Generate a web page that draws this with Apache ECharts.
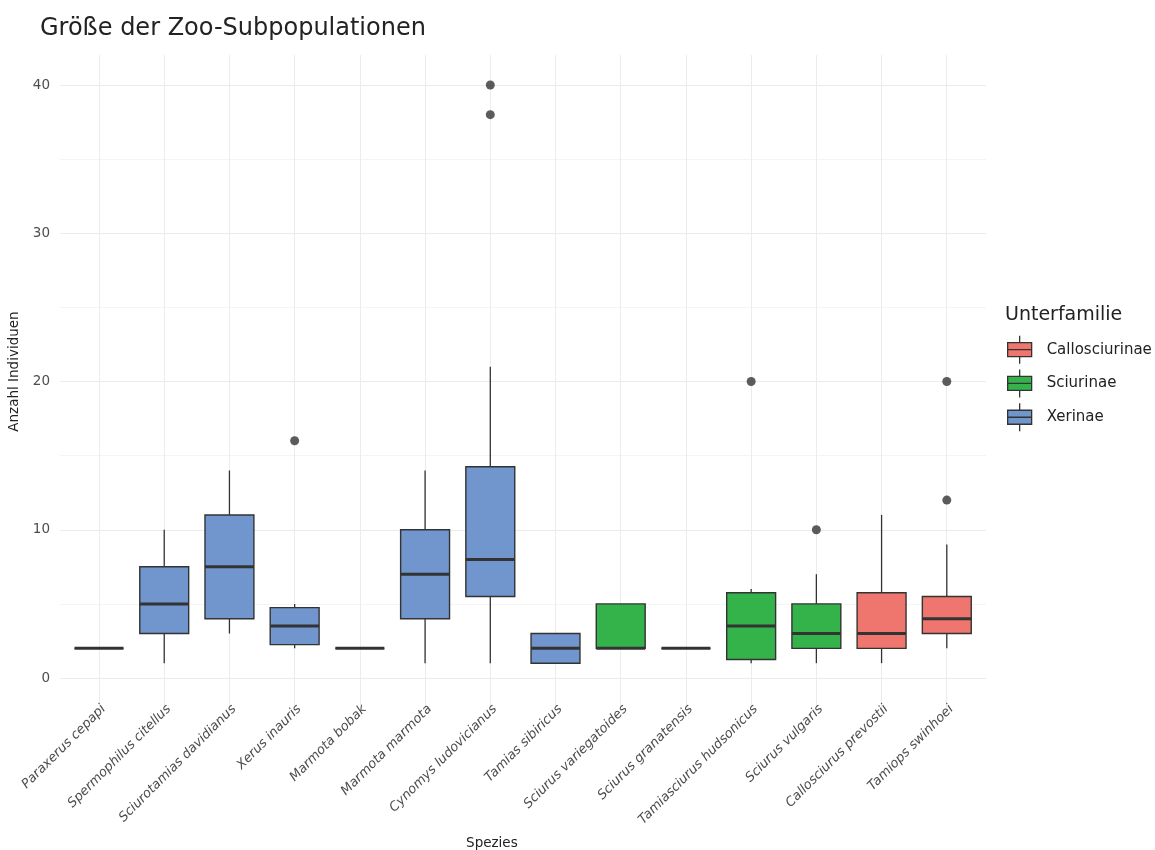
<!DOCTYPE html>
<html>
<head>
<meta charset="utf-8">
<script src="https://cdn.jsdelivr.net/npm/echarts@6/dist/echarts.min.js"></script>
<style>html,body{margin:0;padding:0;background:#fff}#c{width:1155px;height:850px}</style>
</head>
<body>
<div id="c"></div>
<script>
// ---- data ----
const species = ['Paraxerus cepapi','Spermophilus citellus','Sciurotamias davidianus','Xerus inauris','Marmota bobak','Marmota marmota','Cynomys ludovicianus','Tamias sibiricus','Sciurus variegatoides','Sciurus granatensis','Tamiasciurus hudsonicus','Sciurus vulgaris','Callosciurus prevostii','Tamiops swinhoei'];
const subfamily = ['Xerinae','Xerinae','Xerinae','Xerinae','Xerinae','Xerinae','Xerinae','Xerinae','Sciurinae','Sciurinae','Sciurinae','Sciurinae','Callosciurinae','Callosciurinae'];
const whiskerLow  = [2, 1, 3,   2,    2, 1, 1,     1, 2, 2, 1,    1, 1,    2];
const q1          = [2, 3, 4,   2.25, 2, 4, 5.5,   1, 2, 2, 1.25, 2, 2,    3];
const median      = [2, 5, 7.5, 3.5,  2, 7, 8,     2, 2, 2, 3.5,  3, 3,    4];
const q3          = [2, 7.5, 11, 4.75, 2, 10, 14.25, 3, 5, 2, 5.75, 5, 5.75, 5.5];
const whiskerHigh = [2, 10, 14, 5,    2, 14, 21,   3, 5, 2, 6,    7, 11,   9];
const outlierSpecies = ['Xerus inauris','Cynomys ludovicianus','Cynomys ludovicianus','Tamiasciurus hudsonicus','Sciurus vulgaris','Tamiops swinhoei','Tamiops swinhoei'];
const outlierValues  = [16, 38, 40, 20, 10, 12, 20];
const subfamilies = ['Callosciurinae','Sciurinae','Xerinae'];
const yTicks = [0, 10, 20, 30, 40];

const colors = {Callosciurinae:'#EE766F', Sciurinae:'#34B34A', Xerinae:'#7096CD'};
const FONT = '"DejaVu Sans", sans-serif';
const EDGE = '#333333';

function renderBox(params, api) {
  const x = api.value(0);
  const lo = api.coord([x, api.value(1)]);
  const b1 = api.coord([x, api.value(2)]);
  const md = api.coord([x, api.value(3)]);
  const b3 = api.coord([x, api.value(4)]);
  const hi = api.coord([x, api.value(5)]);
  const bw = api.size([1, 0])[0] * 0.75;
  const cx = md[0];
  return {
    type: 'group',
    children: [
      {type:'line', shape:{x1:cx, y1:hi[1], x2:cx, y2:b3[1]}, style:{stroke:EDGE, lineWidth:1.3}},
      {type:'line', shape:{x1:cx, y1:b1[1], x2:cx, y2:lo[1]}, style:{stroke:EDGE, lineWidth:1.3}},
      {type:'rect', shape:{x:cx-bw/2, y:b3[1], width:bw, height:b1[1]-b3[1]}, style:{fill:api.visual('color'), stroke:EDGE, lineWidth:1.4}},
      {type:'line', shape:{x1:cx-bw/2, y1:md[1], x2:cx+bw/2, y2:md[1]}, style:{stroke:EDGE, lineWidth:3}}
    ]
  };
}

const boxSeries = subfamilies.map(sf => ({
  name: sf,
  type: 'custom',
  xAxisIndex: 2, yAxisIndex: 2,
  renderItem: renderBox,
  clip: false,
  itemStyle: {color: colors[sf]},
  encode: {x: 0, y: [1, 2, 3, 4, 5]},
  data: species.map((s, i) => subfamily[i] === sf ? [i, whiskerLow[i], q1[i], median[i], q3[i], whiskerHigh[i]] : null).filter(d => d)
}));

const legendIcon = 'path://M13,0 L13,7 M1,7 L25,7 L25,21 L1,21 Z M1,14 L25,14 M13,21 L13,28';

const option = {
  animation: false,
  backgroundColor: '#ffffff',
  title: [
    {text: 'Größe der Zoo-Subpopulationen', left: 35, top: 12, textStyle: {fontFamily: FONT, fontSize: 24, fontWeight: 'normal', color: '#222222'}},
    {text: 'Unterfamilie', left: 1000, top: 301, textStyle: {fontFamily: FONT, fontSize: 19, fontWeight: 'normal', color: '#222222'}}
  ],
  legend: {
    orient: 'vertical', left: 1002, top: 330,
    itemWidth: 26, itemHeight: 28, itemGap: 4.5,
    data: subfamilies.map(n => ({name: n, icon: legendIcon})),
    itemStyle: {borderColor: EDGE, borderWidth: 1.3},
    textStyle: {fontFamily: FONT, fontSize: 15, color: '#222222', padding: [0, 0, 0, 9]}
  },
  grid: [
    {left: 60, right: 169, top: 85, bottom: 172, outerBoundsMode: 'none', containLabel: false},
    {left: 99, right: 208.4, top: 55, bottom: 142, outerBoundsMode: 'none', containLabel: false},
    {left: 66.4, right: 175.6, top: 85, bottom: 172, outerBoundsMode: 'none', containLabel: false}
  ],
  xAxis: [
    {gridIndex: 0, type: 'value', min: 0, max: 1, show: false},
    {gridIndex: 1, type: 'category', data: species, boundaryGap: false,
      axisLine: {show: false}, axisTick: {show: false}, axisLabel: {show: false},
      splitLine: {show: true, interval: 0, lineStyle: {color: '#ececec', width: 1}}},
    {gridIndex: 2, type: 'category', data: species,
      axisLine: {show: false}, axisTick: {show: false}, splitLine: {show: false},
      axisLabel: {interval: 0, rotate: 45, margin: 24.5, verticalAlign: 'top', fontFamily: FONT, fontSize: 13, fontStyle: 'italic', color: '#4d4d4d'},
      name: 'Spezies', nameLocation: 'middle', nameGap: 158,
      nameTextStyle: {fontFamily: FONT, fontSize: 13.5, color: '#222222', padding: [0, 62, 0, 0]}}
  ],
  yAxis: [
    {gridIndex: 0, type: 'value', min: 0, max: 40, interval: 10,
      axisLine: {show: false}, axisTick: {show: false},
      axisLabel: {fontFamily: FONT, fontSize: 13.5, color: '#4d4d4d', margin: 10,
        formatter: v => yTicks.includes(v) ? String(v) : ''},
      splitLine: {show: true, lineStyle: {color: '#ebebeb', width: 1}},
      minorTick: {show: false, splitNumber: 2},
      minorSplitLine: {show: true, lineStyle: {color: '#f4f4f4', width: 1}},
      name: 'Anzahl Individuen', nameLocation: 'middle', nameGap: 33,
      nameTextStyle: {fontFamily: FONT, fontSize: 13.5, color: '#222222', padding: [0, 0, 0, 20]}},
    {gridIndex: 1, type: 'value', show: false, min: 0, max: 1},
    {gridIndex: 2, type: 'value', min: 0, max: 40, show: false}
  ],
  series: [
    ...boxSeries,
    {
      type: 'scatter', xAxisIndex: 2, yAxisIndex: 2,
      symbol: 'circle', symbolSize: 9, silent: true, clip: false,
      itemStyle: {color: '#333333'},
      data: outlierSpecies.map((s, i) => [species.indexOf(s), outlierValues[i]])
    }
  ]
};

const chart = echarts.init(document.getElementById('c'), null, {renderer: 'canvas'});
chart.setOption(option);
</script>
</body>
</html>
